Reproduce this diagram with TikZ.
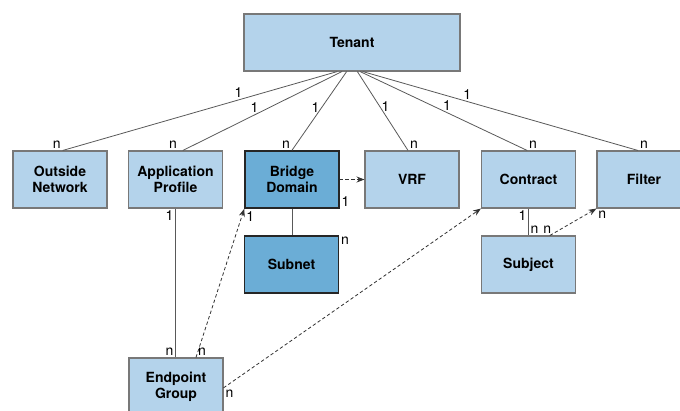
\documentclass[tikz,border=0pt]{standalone}
\usepackage{fontspec}
\setmainfont{TeX Gyre Heros}
\usetikzlibrary{arrows.meta}
\definecolor{boxblue}{RGB}{180,211,235}
\definecolor{bdblue}{RGB}{107,173,214}
\definecolor{edgegray}{RGB}{120,120,120}

\tikzset{
	box/.style={draw=edgegray, line width=0.8pt, fill=boxblue, minimum width=70.5pt, minimum height=42.75pt, align=center, font=\fontsize{10.5}{12}\selectfont\bfseries, inner sep=0pt},
	darkbox/.style={box, draw=black!85, line width=1.1pt, fill=bdblue},
	lbl/.style={font=\fontsize{10.5}{12}\selectfont, inner sep=1.2pt},
	rel/.style={draw=black!65, line width=0.6pt},
	ref/.style={draw=black!80, line width=0.6pt, dash pattern=on 2.5pt off 1.8pt, -{Stealth[length=6pt, width=4.5pt]}}
}

\begin{document}
\begin{tikzpicture}[x=0.75pt, y=-0.75pt]
		%%%%% START %%%%%
		
		\useasboundingbox (0, 0) rectangle (680, 410);
		\clip (0, 0) rectangle (680, 410);
		
		\node[box, minimum width=162pt] (tenant) at (352, 42.5) {Tenant};
		
		\node[box] (outside) at (60, 179.5) {Outside\\Network};
		\node[box] (approf) at (175.5, 179.5) {Application\\Profile};
		\node[darkbox] (bridge) at (292, 179.5) {Bridge\\Domain};
		\node[box] (vrf) at (412, 179.5) {VRF};
		\node[box] (contract) at (528.5, 179.5) {Contract};
		\node[box] (filter) at (644, 179.5) {Filter};
		
		\node[darkbox] (subnet) at (291.5, 264.5) {Subnet};
		\node[box] (subject) at (528.5, 264.5) {Subject};
		\node[box] (epg) at (176, 386.5) {Endpoint\\Group};
		
		% tenant owns the rest
		\draw[rel] ([xshift=-11pt]tenant.south) -- node[lbl, pos=0.36, above] {1} node[lbl, at end, above left] {n} ([xshift=2pt]outside.north);
		\draw[rel] ([xshift=-7.5pt]tenant.south) -- node[lbl, pos=0.55, above] {1} node[lbl, at end, above left, xshift=-3pt] {n} ([xshift=5.5pt]approf.north);
		\draw[rel] ([xshift=-4pt]tenant.south) -- node[lbl, pos=0.46, left] {1} node[lbl, at end, above left] {n} (bridge.north);
		\draw[rel] ([xshift=4pt]tenant.south) -- node[lbl, pos=0.44, right] {1} node[lbl, at end, above right] {n} ([xshift=-3pt]vrf.north);
		\draw[rel] ([xshift=6pt]tenant.south) -- node[lbl, pos=0.52, above] {1} node[lbl, at end, above right] {n} ([xshift=-1pt]contract.north);
		\draw[rel] ([xshift=8pt]tenant.south) -- node[lbl, pos=0.38, above] {1} node[lbl, at end, above right] {n} ([xshift=-4.5pt]filter.north);
		
		% children below
		\draw[rel] (approf.south) -- node[lbl, at start, below left] {1} node[lbl, at end, above left] {n} (approf.south |- epg.north);
		\draw[rel] (bridge.south) -- (bridge.south |- subnet.north);
		\node[lbl, above right] (bdone) at (bridge.south east) {1};
		\node[lbl, below right] (subnetn) at (subnet.north east) {n};
		\draw[rel] (contract.south) -- node[lbl, at start, below left] {1} node[lbl, at end, above right] {n} (contract.south |- subject.north);
		
		% references
		\draw[ref] (bridge.east) -- (vrf.west);
		\draw[ref] ([xshift=15pt]epg.north) -- node[lbl, at start, above right] {n} node[lbl, at end, below right, yshift=-1pt] {1} (bridge.south west);
		\draw[ref] ([yshift=-1pt]epg.east) -- node[lbl, at start, below right] {n} (contract.south west);
		\draw[ref] ([xshift=16pt]subject.north) -- node[lbl, at start, above left, xshift=2.5pt] {n} node[lbl, at end, below right] {n} (filter.south west);
		
		%%%%% END %%%%%
\end{tikzpicture}
\end{document}
